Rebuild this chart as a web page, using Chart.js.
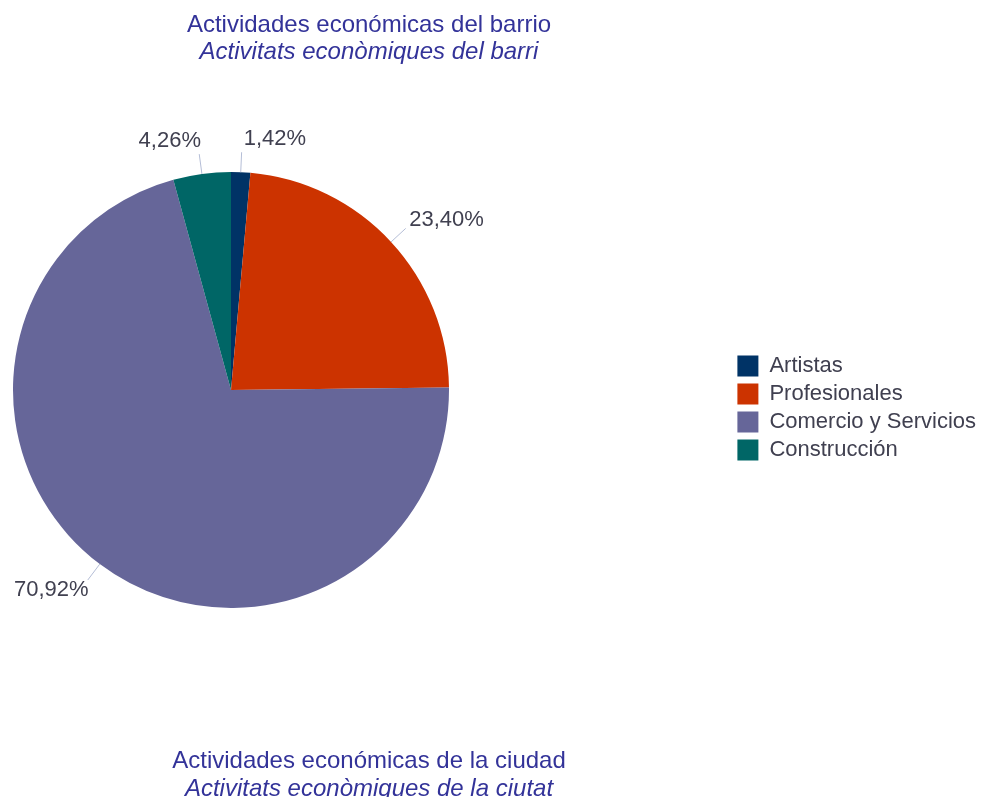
<!DOCTYPE html>
<html lang="es">
<head>
    <meta charset="UTF-8">
    <title>Actividades económicas del barrio</title>
    <script src="https://cdn.jsdelivr.net/npm/chart.js"></script>
    <style>
        body {
            margin: 0;
            background: #fff;
            overflow: hidden;
            font-family: "Liberation Sans", Arial, sans-serif;
        }
        .page {
            position: relative;
            width: 983px;
            height: 797px;
        }
        canvas {
            position: absolute;
            left: 0;
            top: 0;
        }
        .title {
            position: absolute;
            left: 0;
            width: 738px;
            text-align: center;
            color: #333399;
            font-size: 24px;
            line-height: 27px;
        }
        .title em {
            display: block;
        }
    </style>
</head>
<body>
<div class="page">
    <canvas id="pie" width="983" height="780"></canvas>
    <div class="title" id="barrioTitle" style="top: 10px;"></div>
    <div class="title" id="ciudadTitle" style="top: 746px; line-height: 28px;"></div>
</div>

<script>
    // data
    const categories = ["Artistas", "Profesionales", "Comercio y Servicios", "Construcción"];
    const shares = [1.42, 23.40, 70.92, 4.26];
    const sliceColors = ["#003366", "#cc3300", "#666699", "#006666"];
    const barrioTitle = ["Actividades económicas del barrio", "Activitats econòmiques del barri"];
    const ciudadTitle = ["Actividades económicas de la ciudad", "Activitats econòmiques de la ciutat"];

    function fillTitle(id, lines) {
        const el = document.getElementById(id);
        el.textContent = lines[0];
        const it = document.createElement("em");
        it.textContent = lines[1];
        el.appendChild(it);
    }
    fillTitle("barrioTitle", barrioTitle);
    fillTitle("ciudadTitle", ciudadTitle);

    const fmt = v => v.toFixed(2).replace(".", ",") + "%";

    // pie sits at the left, legend stays on the right
    const placePie = {
        id: "placePie",
        afterLayout(chart) {
            chart.chartArea = { left: 13, top: 172, right: 449, bottom: 608, width: 436, height: 436 };
            const lg = chart.legend;
            lg.left += 3; lg.right += 3;
            lg.top += 18; lg.bottom += 18;
        }
    };

    // percentage labels with leader lines
    const pieLabels = {
        id: "pieLabels",
        afterDatasetsDraw(chart) {
            const ctx = chart.ctx;
            const meta = chart.getDatasetMeta(0);
            ctx.save();
            ctx.font = '22px "Liberation Sans", Arial, sans-serif';
            ctx.textBaseline = "middle";
            meta.data.forEach((arc, i) => {
                const p = arc.getProps(["x", "y", "startAngle", "endAngle", "outerRadius"], true);
                const mid = (p.startAngle + p.endAngle) / 2;
                const cos = Math.cos(mid), sin = Math.sin(mid);
                const r = p.outerRadius;
                ctx.strokeStyle = "#b4bdd6";
                ctx.lineWidth = 1;
                ctx.beginPath();
                ctx.moveTo(p.x + cos * r, p.y + sin * r);
                ctx.lineTo(p.x + cos * (r + 20), p.y + sin * (r + 20));
                ctx.stroke();
                ctx.fillStyle = "#404050";
                ctx.textAlign = cos >= 0 ? "left" : "right";
                ctx.fillText(fmt(shares[i]), p.x + cos * (r + 22) + 2, p.y + sin * (r + 22) + 11 * sin);
            });
            ctx.restore();
        }
    };

    new Chart(document.getElementById("pie"), {
        type: "pie",
        data: {
            labels: categories,
            datasets: [{
                data: shares,
                backgroundColor: sliceColors,
                borderWidth: 0
            }]
        },
        options: {
            responsive: false,
            animation: false,
            plugins: {
                tooltip: { enabled: false },
                legend: {
                    position: "right",
                    labels: {
                        boxWidth: 21,
                        boxHeight: 21,
                        padding: 6,
                        color: "#404050",
                        font: { family: '"Liberation Sans", Arial, sans-serif', size: 22 }
                    }
                }
            }
        },
        plugins: [placePie, pieLabels]
    });
</script>
</body>
</html>
